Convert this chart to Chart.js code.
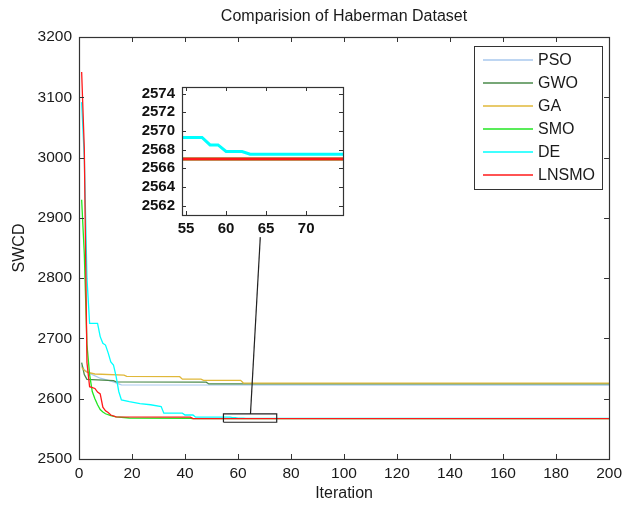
<!DOCTYPE html>
<html><head><meta charset="utf-8">
<script src="https://cdn.jsdelivr.net/npm/chart.js@4.4.0/dist/chart.umd.min.js"></script>
<style>
html,body{margin:0;padding:0;background:#fff;}
#wrap{position:relative;width:627px;height:505px;}
#main{position:absolute;left:0;top:0;}
#inset{position:absolute;left:120px;top:70px;}
</style></head><body>
<div id="wrap"><canvas id="main" width="627" height="505"></canvas><canvas id="inset" width="240" height="180"></canvas></div>
<script>
// ---------- data ----------
const chartTitle = 'Comparision of Haberman Dataset';
const seriesNames = ['PSO','GWO','GA','SMO','DE','LNSMO'];
const seriesColors = ['#a9c9ee','#4a8a4a','#e0b83a','#22e622','#00ffff','#ff1a1a'];

const psoIter = [1,2,4,8,13,16,200];
const psoVal  = [2655,2648,2642,2634,2628,2623,2622.5];

const gwoIter = [1,2,3,13,14,48,49,200];
const gwoVal  = [2660,2640,2632,2630,2628,2627.5,2624.5,2624.5];

const gaIter = [1,2,3,6,17,18,38,39,46,47,61,62,200];
const gaVal  = [2652,2647,2644,2641,2639,2637,2636.5,2632.5,2632.5,2630.5,2630.5,2626,2626];

const smoIter = [1,2,3,4,5,6,7,8,9,10,12,14,19,42,43,200];
const smoVal  = [2930,2840,2690,2640,2612,2600,2590,2582,2578,2575,2572,2570,2568,2567.5,2567,2567];

const deIter = [1,2,3,4,7,8,9,10,11,12,13,14,15,16,19,23,27,31,32,39,40,43,44,57,58,59,60,62,63,200];
const deVal  = [3092,3000,2800,2725,2725,2703,2692,2689,2676,2661,2656,2637,2612,2598,2595,2592,2590,2587,2576,2576,2573,2573,2569.3,2569.3,2568.5,2568.5,2567.8,2567.8,2567.5,2567.5];

const lnsmoIter = [1,2,3,4,6,7,8,9,10,11,12,14,42,43,200];
const lnsmoVal  = [3142,3015,2660,2620,2617,2611,2608,2586,2580,2577,2573,2570,2569.5,2567,2567];

const xTicks = [0,20,40,60,80,100,120,140,160,180,200];
const yTicks = [2500,2600,2700,2800,2900,3000,3100,3200];
const insetXTicks = [55,60,65,70];
const insetYTicks = [2562,2564,2566,2568,2570,2572,2574];
const insetXRange = [54.5,74.6];
const insetYRange = [2561,2574.7];
// connector from zoom box (bottom end) to inset (top end), in main-axis data units
const connectorX = [64.7,68.4];
const connectorY = [2574.7,2868];

// ---------- helpers ----------
const FONT = 'Liberation Sans, Arial, sans-serif';
const TXT = '#1a1a1a';
const allIters = [psoIter,gwoIter,gaIter,smoIter,deIter,lnsmoIter];
const allVals  = [psoVal,gwoVal,gaVal,smoVal,deVal,lnsmoVal];
const pts = (xs,ys)=>xs.map((x,i)=>({x:x,y:ys[i]}));
const plain = v => String(v);

function seriesDatasets(width, which){
  return which.map(i=>({
    label: seriesNames[i],
    data: pts(allIters[i], allVals[i]),
    borderColor: seriesColors[i],
    borderWidth: width,
    pointRadius: 0,
    tension: 0,
    fill: false,
    order: 10 - i
  }));
}

const boxPlugin = {
  id:'mlBox',
  afterDraw(chart, args, opts){
    const ctx = chart.ctx, a = chart.chartArea;
    const xs = chart.scales.x, ys = chart.scales.y;
    const tl = opts.tickLen || 5;
    ctx.save();
    ctx.strokeStyle = '#333';
    ctx.lineWidth = 1;
    ctx.beginPath();
    xs.ticks.forEach(t=>{
      const px = Math.round(xs.getPixelForValue(t.value))+0.5;
      ctx.moveTo(px, a.bottom); ctx.lineTo(px, a.bottom - tl);
      ctx.moveTo(px, a.top); ctx.lineTo(px, a.top + tl);
    });
    ys.ticks.forEach(t=>{
      const py = Math.round(ys.getPixelForValue(t.value))+0.5;
      ctx.moveTo(a.left, py); ctx.lineTo(a.left + tl, py);
      ctx.moveTo(a.right, py); ctx.lineTo(a.right - tl, py);
    });
    ctx.stroke();
    ctx.lineWidth = 1.2;
    ctx.strokeRect(Math.round(a.left)+0.5, Math.round(a.top)+0.5, Math.round(a.right-a.left), Math.round(a.bottom-a.top));
    if (opts.title) {
      ctx.fillStyle = TXT;
      ctx.font = '16px ' + FONT;
      ctx.textAlign = 'center';
      ctx.textBaseline = 'middle';
      ctx.fillText(opts.title, (a.left + a.right)/2, 17);
    }
    ctx.restore();
  }
};

const whiteAreaPlugin = {
  id:'whiteArea',
  beforeDraw(chart){
    const a = chart.chartArea, ctx = chart.ctx;
    ctx.save(); ctx.fillStyle='#fff';
    ctx.fillRect(a.left, a.top, a.right-a.left, a.bottom-a.top);
    ctx.restore();
  }
};

const legendPlugin = {
  id:'mlLegend',
  afterDraw(chart){
    const ctx = chart.ctx, a = chart.chartArea;
    const w = 128, h = 143;
    const bx = Math.round(a.right - 7 - w), by = Math.round(a.top + 9);
    ctx.save();
    ctx.fillStyle = '#fff';
    ctx.fillRect(bx, by, w, h);
    ctx.strokeStyle = '#333'; ctx.lineWidth = 1;
    ctx.strokeRect(bx+0.5, by+0.5, w, h);
    ctx.font = '16px ' + FONT;
    ctx.textBaseline = 'middle';
    ctx.textAlign = 'left';
    seriesNames.forEach((n,i)=>{
      const y = by + 14 + i*23;
      ctx.strokeStyle = seriesColors[i]; ctx.lineWidth = 1.5;
      ctx.beginPath(); ctx.moveTo(bx+9, y); ctx.lineTo(bx+59, y); ctx.stroke();
      ctx.fillStyle = TXT;
      ctx.fillText(n, bx+64, y+1);
    });
    ctx.restore();
  }
};

const setTicks = arr => s => { s.ticks = arr.map(v=>({value:v})); };

// ---------- main chart ----------
const mainDatasets = seriesDatasets(1.3, [0,1,2,3,4,5]);
mainDatasets.push({
  label:'zoombox',
  data: pts([insetXRange[0],insetXRange[1],insetXRange[1],insetXRange[0],insetXRange[0]],
            [insetYRange[0],insetYRange[0],insetYRange[1],insetYRange[1],insetYRange[0]]),
  borderColor:'#222', borderWidth:1.2, pointRadius:0, tension:0, fill:false, order:-1
});
mainDatasets.push({
  label:'connector',
  data: pts(connectorX, connectorY),
  borderColor:'#222', borderWidth:1.2, pointRadius:0, tension:0, fill:false, order:-1
});

new Chart(document.getElementById('main'), {
  type:'line',
  data:{ datasets: mainDatasets },
  options:{
    responsive:false, animation:false, devicePixelRatio:1,
    layout:{padding:{left:0,right:13,top:37,bottom:0}},
    plugins:{
      legend:{display:false}, tooltip:{enabled:false}, title:{display:false},
      mlBox:{tickLen:5, title:chartTitle}
    },
    scales:{
      x:{type:'linear', min:0, max:200,
         afterBuildTicks:setTicks(xTicks), afterFit:s=>{s.height=46;},
         grid:{display:false, drawTicks:false}, border:{display:false},
         ticks:{color:TXT, font:{family:FONT,size:15.5}, padding:5, maxRotation:0, autoSkip:false, callback:plain},
         title:{display:true, text:'Iteration', color:TXT, font:{family:FONT,size:16}, padding:{top:0,bottom:2}}},
      y:{type:'linear', min:2500, max:3200,
         afterBuildTicks:setTicks(yTicks), afterFit:s=>{s.width=79;},
         grid:{display:false, drawTicks:false}, border:{display:false},
         ticks:{color:TXT, font:{family:FONT,size:15.5}, padding:7, autoSkip:false, callback:plain},
         title:{display:true, text:'SWCD', color:TXT, font:{family:FONT,size:16}, padding:{top:10,bottom:0}}}
    }
  },
  plugins:[boxPlugin, legendPlugin]
});

// ---------- inset chart ----------
new Chart(document.getElementById('inset'), {
  type:'line',
  data:{ datasets: seriesDatasets(3, [3,4,5]) },
  options:{
    responsive:false, animation:false, devicePixelRatio:1,
    layout:{padding:{left:0,right:17,top:17,bottom:0}},
    plugins:{legend:{display:false}, tooltip:{enabled:false}, mlBox:{tickLen:4}},
    scales:{
      x:{type:'linear', min:insetXRange[0], max:insetXRange[1],
         afterBuildTicks:setTicks(insetXTicks), afterFit:s=>{s.height=35;},
         grid:{display:false, drawTicks:false}, border:{display:false},
         ticks:{color:'#111', font:{family:FONT,size:15,weight:'bold'}, padding:5, maxRotation:0, autoSkip:false, callback:plain}},
      y:{type:'linear', min:insetYRange[0], max:insetYRange[1],
         afterBuildTicks:setTicks(insetYTicks), afterFit:s=>{s.width=62;},
         grid:{display:false, drawTicks:false}, border:{display:false},
         ticks:{color:'#111', font:{family:FONT,size:15,weight:'bold'}, padding:7, autoSkip:false, callback:plain}}
    }
  },
  plugins:[whiteAreaPlugin, boxPlugin]
});
</script>
</body></html>
